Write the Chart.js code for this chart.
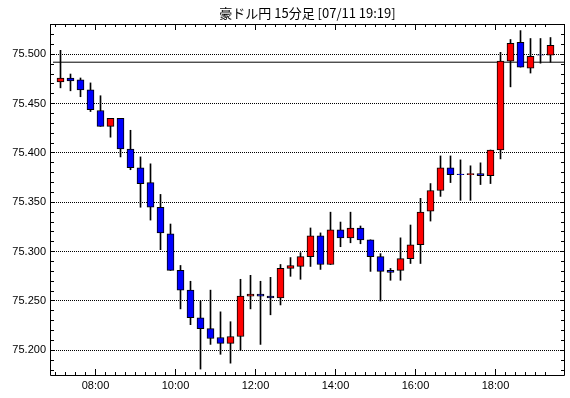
<!DOCTYPE html>
<html>
<head>
<meta charset="utf-8">
<script src="https://cdn.jsdelivr.net/npm/chart.js@4.4.1/dist/chart.umd.min.js"></script>
<style>
html, body { margin: 0; padding: 0; background: #fff; }
canvas { display: block; }
</style>
</head>
<body>
<canvas id="chart" width="570" height="398"></canvas>
<script>
var title = '豪ドル円 15分足 [07/11 19:19]';

var times = ['07:00','07:15','07:30','07:45','08:00','08:15','08:30','08:45','09:00','09:15',
             '09:30','09:45','10:00','10:15','10:30','10:45','11:00','11:15','11:30','11:45',
             '12:00','12:15','12:30','12:45','13:00','13:15','13:30','13:45','14:00','14:15',
             '14:30','14:45','15:00','15:15','15:30','15:45','16:00','16:15','16:30','16:45',
             '17:00','17:15','17:30','17:45','18:00','18:15','18:30','18:45','19:00','19:15'];

var opens = [75.472, 75.476, 75.474, 75.464, 75.443, 75.427, 75.435, 75.404, 75.385, 75.370,
             75.345, 75.318, 75.281, 75.261, 75.233, 75.222, 75.213, 75.207, 75.214, 75.255,
             75.257, 75.255, 75.253, 75.283, 75.285, 75.295, 75.316, 75.287, 75.322, 75.314,
             75.324, 75.312, 75.295, 75.281, 75.281, 75.293, 75.307, 75.341, 75.362, 75.385,
             75.3785, 75.378, 75.379, 75.377, 75.403, 75.493, 75.512, 75.486, 75.4995, 75.499];

var highs = [75.504, 75.480, 75.476, 75.471, 75.458, 75.435, 75.435, 75.423, 75.396, 75.389,
             75.358, 75.328, 75.286, 75.270, 75.250, 75.261, 75.239, 75.229, 75.272, 75.276,
             75.270, 75.274, 75.287, 75.294, 75.299, 75.324, 75.319, 75.340, 75.330, 75.340,
             75.326, 75.312, 75.298, 75.283, 75.314, 75.327, 75.354, 75.369, 75.397, 75.397,
             75.393, 75.387, 75.390, 75.403, 75.502, 75.515, 75.524, 75.516, 75.516, 75.517];

var lows = [75.466, 75.463, 75.457, 75.442, 75.427, 75.416, 75.396, 75.383, 75.345, 75.332,
            75.302, 75.281, 75.242, 75.226, 75.181, 75.206, 75.196, 75.187, 75.200, 75.242,
            75.206, 75.236, 75.246, 75.275, 75.272, 75.285, 75.282, 75.287, 75.305, 75.309,
            75.308, 75.280, 75.250, 75.271, 75.271, 75.288, 75.288, 75.331, 75.356, 75.370,
            75.352, 75.352, 75.368, 75.369, 75.394, 75.467, 75.487, 75.481, 75.491, 75.492];

var closes = [75.476, 75.473, 75.464, 75.444, 75.427, 75.435, 75.404, 75.385, 75.369, 75.345,
              75.319, 75.281, 75.261, 75.233, 75.222, 75.212, 75.207, 75.214, 75.255, 75.257,
              75.255, 75.253, 75.283, 75.286, 75.295, 75.316, 75.287, 75.322, 75.314, 75.324,
              75.312, 75.295, 75.280, 75.279, 75.293, 75.307, 75.340, 75.362, 75.385, 75.378,
              75.378, 75.379, 75.377, 75.403, 75.493, 75.511, 75.487, 75.498, 75.499, 75.509];

var refLevel = 75.492;

var yTicks = [75.200, 75.250, 75.300, 75.350, 75.400, 75.450, 75.500];
var xTickSlots = [4, 12, 20, 28, 36, 44];
var xTickLabels = ['08:00', '10:00', '12:00', '14:00', '16:00', '18:00'];

var yMin = 75.175, yMax = 75.5307;
var xMin = -0.55, xMax = 50.95;

var bodies = times.map((t, i) => ({ x: i + 0.5, y: [opens[i], closes[i]] }));
var wicks = times.map((t, i) => ({ x: i + 0.5, y: [lows[i], highs[i]] }));
var bodyColors = times.map((t, i) => closes[i] >= opens[i] ? '#ff0000' : '#0000ff');

// inward ticks and frame like the original
var frame = {
    id: 'frame',
    afterDraw: function(chart) {
        var a = chart.chartArea, c = chart.ctx;
        var xs = chart.scales.x, ys = chart.scales.y;
        c.save();
        c.strokeStyle = '#000';
        c.lineWidth = 1;
        c.beginPath();
        for (var k = 0; ; k++) {
            var v = 75.18 + k * 0.01;
            if (v > yMax) break;
            var y = Math.floor(ys.getPixelForValue(v)) + 0.5;
            c.moveTo(a.left, y); c.lineTo(a.left + 4, y);
            c.moveTo(a.right, y); c.lineTo(a.right - 4, y);
        }
        for (var s = 0; s < times.length; s++) {
            var x = Math.floor(xs.getPixelForValue(s)) + 0.5;
            var len = xTickSlots.indexOf(s) >= 0 ? 6 : 3;
            c.moveTo(x, a.bottom); c.lineTo(x, a.bottom - len);
            c.moveTo(x, a.top); c.lineTo(x, a.top + len);
        }
        c.moveTo(a.left + 0.5, a.top + 0.5);
        c.lineTo(a.right - 0.5, a.top + 0.5);
        c.lineTo(a.right - 0.5, a.bottom + 0.5);
        c.lineTo(a.left + 0.5, a.bottom + 0.5);
        c.closePath();
        c.stroke();
        c.restore();
    }
};

var ctx = document.getElementById('chart').getContext('2d');

var chart = new Chart(ctx, {
    type: 'bar',
    data: {
        datasets: [{
            label: 'body',
            data: bodies,
            backgroundColor: bodyColors,
            borderColor: '#000',
            borderWidth: 1,
            borderSkipped: false,
            barThickness: 7,
            grouped: false,
            order: 0
        }, {
            label: 'wick',
            data: wicks,
            backgroundColor: '#000',
            borderWidth: 0,
            barThickness: 1,
            grouped: false,
            order: 1
        }, {
            type: 'line',
            label: 'ref',
            data: [{ x: xMin + 0.3, y: refLevel }, { x: xMax, y: refLevel }],
            borderColor: '#000',
            borderWidth: 1,
            pointRadius: 0,
            order: 2
        }]
    },
    options: {
        responsive: false,
        animation: false,
        layout: { padding: { left: 0, right: 5, top: 0, bottom: 0 } },
        plugins: {
            legend: { display: false },
            tooltip: { enabled: false },
            title: {
                display: true,
                text: title,
                fullSize: false,
                color: '#000',
                font: { family: '"Noto Sans CJK JP", "Liberation Sans", sans-serif', size: 13, weight: 'normal', lineHeight: '15px' },
                padding: { top: 6, bottom: 3 }
            }
        },
        scales: {
            x: {
                type: 'linear',
                min: xMin,
                max: xMax,
                offset: false,
                grid: { display: false, drawTicks: false, tickLength: 0 },
                border: { display: false },
                afterBuildTicks: function(scale) {
                    scale.ticks = xTickSlots.map(v => ({ value: v }));
                },
                afterFit: function(scale) { scale.height = 23; },
                ticks: {
                    autoSkip: false,
                    maxRotation: 0,
                    padding: 4,
                    color: '#000',
                    font: { family: 'Liberation Sans', size: 11 },
                    callback: function(v) { return xTickLabels[xTickSlots.indexOf(v)]; }
                }
            },
            y: {
                type: 'linear',
                min: yMin,
                max: yMax,
                beginAtZero: false,
                grid: { color: '#000', lineWidth: 1, drawTicks: false },
                border: { display: false, dash: [1, 1] },
                afterBuildTicks: function(scale) {
                    scale.ticks = yTicks.map(v => ({ value: v }));
                },
                afterFit: function(scale) { scale.width = 50; },
                ticks: {
                    padding: 4,
                    color: '#000',
                    font: { family: 'Liberation Sans', size: 11 },
                    callback: function(v) { return v.toFixed(3); }
                }
            }
        }
    },
    plugins: [frame]
});
</script>
</body>
</html>
